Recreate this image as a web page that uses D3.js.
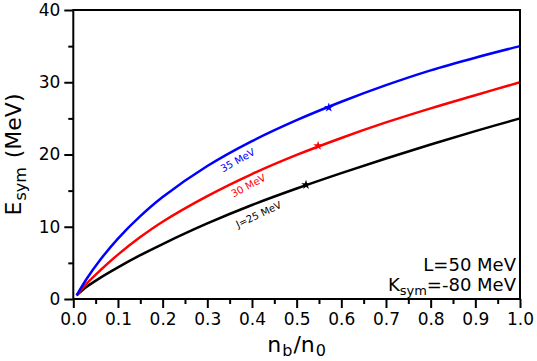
<!DOCTYPE html>
<html>
<head>
<meta charset="utf-8">
<script src="https://cdn.jsdelivr.net/npm/d3@7"></script>
<style>
  body { margin: 0; background: #fff; }
  svg { display: block; font-family: "DejaVu Sans", sans-serif; }
</style>
</head>
<body>
<svg id="chart" width="537" height="361"></svg>
<script>
// Esym vs density for three J values (L = 50 MeV, Ksym = -80 MeV)
const density = [0.0075, 0.03, 0.06, 0.1, 0.15, 0.2, 0.3, 0.4, 0.5, 0.6, 0.7, 0.8, 0.9, 1.0];
const esymJ25 = [0.5, 1.69, 2.92, 4.38, 6.06, 7.61, 10.46, 13.01, 15.29, 17.42, 19.45, 21.39, 23.24, 25.0];
const esymJ30 = [0.5, 2.14, 3.94, 6.14, 8.57, 10.7, 14.24, 17.29, 19.94, 22.29, 24.44, 26.39, 28.21, 30.0];
const esymJ35 = [0.5, 2.8, 5.4, 8.36, 11.46, 14.11, 18.4, 21.85, 24.75, 27.3, 29.6, 31.65, 33.4, 35.0];

const seriesNames = ["J=25 MeV", "30 MeV", "35 MeV"];
const seriesColors = ["#000000", "#ff0000", "#0000ff"];
const starX = [0.521, 0.548, 0.572];
const starY = [15.8, 21.2, 26.5];
const labelX = [0.415, 0.392, 0.368];
const labelY = [11.7, 15.7, 19.2];
const labelAngle = [-25, -28, -29];

const xTicks = [0, 0.1, 0.2, 0.3, 0.4, 0.5, 0.6, 0.7, 0.8, 0.9, 1.0];
const yTicks = [0, 10, 20, 30, 40];

const series = [esymJ25, esymJ30, esymJ35];

const W = 537, H = 361;
const m = { left: 73.3, right: 17, top: 10, bottom: 62 };
const iw = W - m.left - m.right, ih = H - m.top - m.bottom;

const svg = d3.select("#chart");
const g = svg.append("g").attr("transform", `translate(${m.left},${m.top})`);

const x = d3.scaleLinear().domain([0, 1]).range([0, iw]);
const y = d3.scaleLinear().domain([0, 40]).range([ih, 0]);

// minor ticks
g.append("g")
    .attr("transform", `translate(0,${ih})`)
    .call(d3.axisBottom(x).tickValues(d3.range(0.05, 1, 0.1)).tickSize(5).tickFormat(""))
    .call(a => a.select(".domain").remove())
    .selectAll("line").attr("stroke-width", 2);
g.append("g")
    .call(d3.axisLeft(y).tickValues([5, 15, 25, 35]).tickSize(5).tickFormat(""))
    .call(a => a.select(".domain").remove())
    .selectAll("line").attr("stroke-width", 2);

// major ticks
const xa = g.append("g")
    .attr("transform", `translate(0,${ih})`)
    .call(d3.axisBottom(x).tickValues(xTicks).tickSize(9).tickPadding(5).tickFormat(d3.format(".1f")));
xa.select(".domain").remove();
xa.selectAll("line").attr("stroke-width", 2);
xa.selectAll("text").attr("font-size", 17).attr("fill", "#000").attr("font-family", "DejaVu Sans");

const ya = g.append("g")
    .call(d3.axisLeft(y).tickValues(yTicks).tickSize(9).tickPadding(4).tickFormat(d3.format("d")));
ya.select(".domain").remove();
ya.selectAll("line").attr("stroke-width", 2);
ya.selectAll("text").attr("font-size", 17).attr("fill", "#000").attr("font-family", "DejaVu Sans");

// curves
const line = d3.line()
    .x((d, i) => x(density[i]))
    .y(d => y(d))
    .curve(d3.curveCatmullRom.alpha(0.5));

g.append("g")
    .selectAll("path")
    .data(series)
    .join("path")
    .attr("d", d => line(d))
    .attr("fill", "none")
    .attr("stroke", (d, i) => seriesColors[i])
    .attr("stroke-width", 2.5);

// star markers
g.append("g")
    .selectAll("path")
    .data(starX)
    .join("path")
    .attr("transform", (d, i) => `translate(${x(d)},${y(starY[i])})`)
    .attr("d", d3.symbol(d3.symbolStar, 28))
    .attr("fill", (d, i) => seriesColors[i]);

// curve labels
g.append("g")
    .selectAll("text")
    .data(seriesNames)
    .join("text")
    .attr("transform", (d, i) => `translate(${x(labelX[i])},${y(labelY[i])}) rotate(${labelAngle[i]})`)
    .attr("text-anchor", "middle")
    .attr("dy", "0.35em")
    .attr("font-size", 10)
    .attr("fill", (d, i) => seriesColors[i])
    .text(d => d);

// frame
g.append("rect")
    .attr("width", iw).attr("height", ih)
    .attr("fill", "none")
    .attr("stroke", "#000")
    .attr("stroke-width", 2);

// parameter annotation
const ann = g.append("g").attr("font-size", 18).attr("text-anchor", "end");
ann.append("text").attr("x", iw - 4).attr("y", ih - 28).text("L=50 MeV");
const k = ann.append("text").attr("x", iw - 4).attr("y", ih - 8);
k.append("tspan").text("K");
k.append("tspan").attr("font-size", 13).attr("dy", 4).text("sym");
k.append("tspan").attr("dy", -4).text("=-80 MeV");

// axis labels
const xl = svg.append("text")
    .attr("x", m.left + iw / 2).attr("y", 352)
    .attr("text-anchor", "middle")
    .attr("font-size", 22);
xl.append("tspan").text("n");
xl.append("tspan").attr("font-size", 16).attr("dx", 1).attr("dy", 4).text("b");
xl.append("tspan").attr("dx", 1).attr("dy", -4).text("/n");
xl.append("tspan").attr("font-size", 16).attr("dx", 1).attr("dy", 4).text("0");

const yl = svg.append("text")
    .attr("transform", `translate(21,${m.top + ih / 2}) rotate(-90)`)
    .attr("text-anchor", "middle")
    .attr("font-size", 22);
yl.append("tspan").text("E");
yl.append("tspan").attr("font-size", 16).attr("dx", 1).attr("dy", 5).text("sym");
yl.append("tspan").attr("dx", 2).attr("dy", -5).text(" (MeV)");
</script>
</body>
</html>
